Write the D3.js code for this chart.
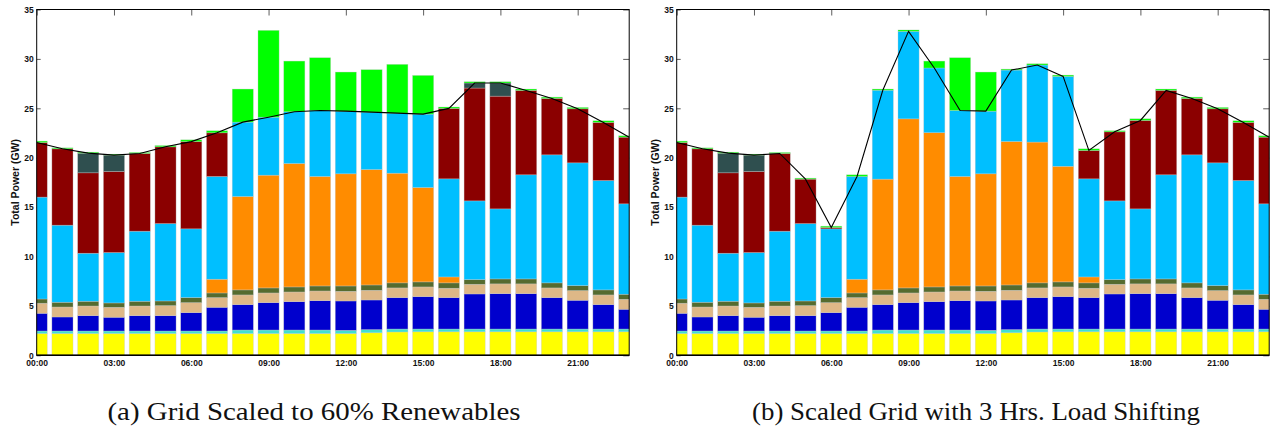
<!DOCTYPE html>
<html>
<head>
<meta charset="utf-8">
<script src="https://cdn.jsdelivr.net/npm/d3@7"></script>
<style>
  html, body { margin: 0; padding: 0; background: #fff; }
  svg { display: block; }
  .tick text { font-family: "Liberation Sans", Arial, sans-serif; font-weight: bold; font-size: 8.5px; fill: #111; }
  .ylab { font-family: "Liberation Sans", Arial, sans-serif; font-weight: bold; font-size: 10.5px; fill: #111; }
  .caption { font-family: "Liberation Serif", "Times New Roman", serif; font-size: 25px; fill: #111; }
</style>
</head>
<body>
<svg id="chart" width="1273" height="432"></svg>
<script>
// Hour of day for each bar (00:00 .. 23:00)
const hours = [0,1,2,3,4,5,6,7,8,9,10,11,12,13,14,15,16,17,18,19,20,21,22,23];
const tickHours = [0,3,6,9,12,15,18,21];
const tickLabels = ["00:00","03:00","06:00","09:00","12:00","15:00","18:00","21:00"];
const yTicks = [0,5,10,15,20,25,30,35];

// Generation by source (GW), common to both scenarios
const nuclear    = [2.2,2.2,2.2,2.2,2.2,2.2,2.2,2.2,2.2,2.2,2.2,2.2,2.2,2.28,2.36,2.38,2.38,2.38,2.38,2.38,2.38,2.38,2.38,2.38];
const geothermal = [0.26,0.26,0.26,0.26,0.26,0.26,0.26,0.26,0.36,0.36,0.36,0.36,0.33,0.32,0.30,0.28,0.28,0.28,0.28,0.28,0.28,0.28,0.28,0.28];
const hydro      = [1.79,1.42,1.55,1.39,1.55,1.55,1.86,2.40,2.57,2.77,2.87,2.97,2.97,3.00,3.18,3.28,3.18,3.55,3.58,3.58,3.18,2.91,2.47,2.00];
const biomass    = [1.02,1.01,0.98,1.01,0.98,1.02,1.01,0.98,0.98,0.98,0.98,0.98,0.98,0.98,0.98,0.98,0.95,0.98,0.99,0.99,0.98,0.98,0.98,1.01];
const biogas     = [0.43,0.48,0.48,0.44,0.48,0.47,0.51,0.47,0.51,0.51,0.51,0.51,0.54,0.54,0.51,0.51,0.54,0.47,0.50,0.50,0.51,0.50,0.51,0.51];

// Scenario (a): grid scaled to 60% renewables
const solarA   = [0,0,0,0,0,0,0,1.39,9.45,11.41,12.49,11.08,11.35,11.68,11.10,9.55,0.60,0,0,0,0,0,0,0];
const windA    = [10.31,7.80,4.86,5.10,7.09,7.83,6.96,10.40,7.53,5.87,5.24,6.68,6.34,5.81,6.08,7.43,9.93,7.97,7.09,10.54,12.96,12.43,11.07,9.15];
const gasA     = [5.52,7.73,8.14,8.20,7.87,7.77,8.83,4.42,0,0,0,0,0,0,0,0,7.13,11.42,11.41,8.54,5.71,5.47,5.88,6.75];
const storageA = [0,0,1.99,1.66,0,0,0,0,0,0,0,0,0,0,0,0,0,0.51,1.33,0,0,0,0,0];
const excessA  = [0.15,0.10,0.10,0.10,0.10,0.13,0.18,0.21,3.35,8.79,5.13,5.34,3.96,4.30,4.94,3.92,0.14,0.13,0.13,0.14,0.13,0.14,0.17,0.14];
const demandA  = [21.53,20.90,20.46,20.26,20.43,21.10,21.63,22.52,23.60,24.10,24.65,24.78,24.71,24.61,24.51,24.41,24.99,27.56,27.56,26.81,26.00,24.95,23.57,22.08];

// Scenario (b): scaled grid with 3 hours of load shifting
const solarB   = [0,0,0,0,0,0,0,1.39,11.21,17.11,15.61,11.08,11.35,14.52,14.25,11.70,0.60,0,0,0,0,0,0,0];
const windB    = [10.31,7.80,4.86,5.10,7.09,7.83,6.96,10.40,9.00,8.86,6.55,6.68,6.34,7.23,7.80,9.10,9.93,7.97,7.09,10.54,12.96,12.43,11.07,9.15];
const gasB     = [5.52,7.73,8.14,8.20,7.87,4.50,0.13,0,0,0,0,0,0,0,0,0,2.87,6.99,8.95,8.54,5.71,5.47,5.88,6.75];
const storageB = [0,0,1.99,1.66,0,0,0,0,0,0,0,0,0,0,0,0,0,0,0,0,0,0,0,0];
const excessB  = [0.15,0.10,0.10,0.10,0.10,0.10,0.14,0.17,0.12,0.14,0.70,5.34,3.96,0.10,0.13,0.13,0.17,0.11,0.17,0.14,0.13,0.14,0.17,0.14];
const demandB  = [21.53,20.90,20.46,20.26,20.43,17.83,12.93,18.10,26.83,32.79,29.08,24.78,24.71,28.87,29.38,28.23,20.73,22.62,23.77,26.81,26.00,24.95,23.57,22.08];

// Stacking order (bottom to top) and fill colours
const sourceKeys = ["nuclear","geothermal","hydro","biomass","biogas","solar","wind","gas","storage","excess"];
const sourceColors = ["#FFFF00","#40E0D0","#0000CD","#DEB887","#556B2F","#FF8C00","#00BFFF","#8B0000","#2F4F4F","#00FF00"];

const scenarios = [
  { id: "a", caption: "(a) Grid Scaled to 60% Renewables",
    series: { nuclear, geothermal, hydro, biomass, biogas, solar: solarA, wind: windA, gas: gasA, storage: storageA, excess: excessA },
    demand: demandA },
  { id: "b", caption: "(b) Scaled Grid with 3 Hrs. Load Shifting",
    series: { nuclear, geothermal, hydro, biomass, biogas, solar: solarB, wind: windB, gas: gasB, storage: storageB, excess: excessB },
    demand: demandB }
];

const svg = d3.select("#chart");
const panelWidth = 640;
const plotLeft = 36.7, plotRight = 629.2, plotTop = 9.5, plotBottom = 355.3;
const captionCenter = [314, 336];
const captionWidth = [413, 448];

scenarios.forEach((sc, i) => {
  const g = svg.append("g").attr("transform", `translate(${i * panelWidth},0)`);

  const x = d3.scaleLinear().domain([0, 23]).range([plotLeft, plotRight]);
  const y = d3.scaleLinear().domain([0, 35]).range([plotBottom, plotTop]);
  const barWidth = (x(1) - x(0)) * 0.82;

  const clipId = "clip-" + sc.id;
  g.append("clipPath").attr("id", clipId)
    .append("rect")
    .attr("x", plotLeft).attr("y", plotTop)
    .attr("width", plotRight - plotLeft).attr("height", plotBottom - plotTop);

  // Tick marks sit beneath the bars
  const axisStyle = sel => {
    sel.select(".domain").remove();
    sel.selectAll(".tick line").attr("stroke", "#333").attr("stroke-width", 0.8);
  };
  g.append("g").attr("transform", `translate(${plotLeft},0)`)
    .call(d3.axisLeft(y).tickValues(yTicks).tickSize(-4).tickPadding(3))
    .call(axisStyle);
  g.append("g").attr("transform", `translate(${plotRight},0)`)
    .call(d3.axisRight(y).tickValues(yTicks).tickSize(-6).tickFormat(""))
    .call(axisStyle);
  g.append("g").attr("transform", `translate(0,${plotTop})`)
    .call(d3.axisTop(x).tickValues(tickHours).tickSize(-6).tickFormat(""))
    .call(axisStyle);
  g.append("g").attr("transform", `translate(0,${plotBottom})`)
    .call(d3.axisBottom(x).tickValues(tickHours).tickSize(-6).tickPadding(5)
      .tickFormat((d, k) => tickLabels[k]))
    .call(axisStyle);

  // Stacked bars
  const table = hours.map((h, k) => {
    const row = { hour: h };
    sourceKeys.forEach(key => { row[key] = sc.series[key][k]; });
    return row;
  });
  const stacked = d3.stack().keys(sourceKeys)(table);

  const bars = g.append("g").attr("clip-path", `url(#${clipId})`);
  stacked.forEach((layer, li) => {
    bars.append("g")
      .attr("fill", sourceColors[li])
      .selectAll("rect")
      .data(layer.filter(d => d[1] - d[0] > 0))
      .join("rect")
      .attr("x", d => x(d.data.hour) - barWidth / 2)
      .attr("width", barWidth)
      .attr("y", d => y(d[1]))
      .attr("height", d => y(d[0]) - y(d[1]))
      .attr("stroke", "rgba(200,200,200,0.55)")
      .attr("stroke-width", 0.6);
  });

  // Demand line
  const line = d3.line().x((d, k) => x(hours[k])).y(d => y(d));
  bars.append("path")
    .datum(sc.demand)
    .attr("d", line)
    .attr("fill", "none")
    .attr("stroke", "#000")
    .attr("stroke-width", 1.1);

  // Axes frame
  g.append("rect")
    .attr("x", plotLeft).attr("y", plotTop)
    .attr("width", plotRight - plotLeft).attr("height", plotBottom - plotTop)
    .attr("fill", "none").attr("stroke", "#000").attr("stroke-width", 1);
  g.append("line")
    .attr("x1", plotLeft).attr("x2", plotRight)
    .attr("y1", plotBottom).attr("y2", plotBottom)
    .attr("stroke", "#000").attr("stroke-width", 1.6);

  // Y-axis title
  g.append("text").attr("class", "ylab")
    .attr("transform", `translate(19,${(plotTop + plotBottom) / 2}) rotate(-90)`)
    .attr("text-anchor", "middle")
    .text("Total Power (GW)");

  // Sub-figure caption
  g.append("text").attr("class", "caption")
    .attr("x", captionCenter[i])
    .attr("y", 420)
    .attr("text-anchor", "middle")
    .attr("textLength", captionWidth[i])
    .attr("lengthAdjust", "spacingAndGlyphs")
    .text(sc.caption);
});
</script>
</body>
</html>
